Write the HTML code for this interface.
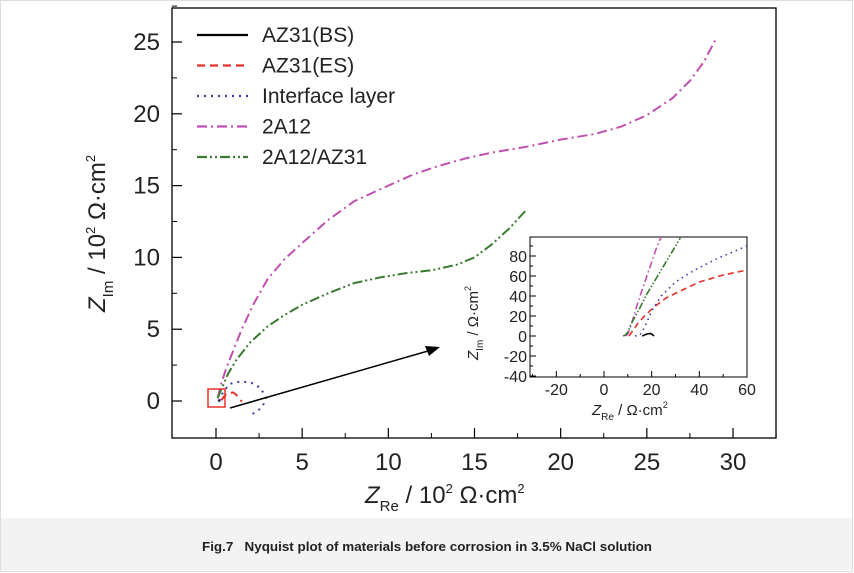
<!DOCTYPE html>
<html><head><meta charset="utf-8"><style>
body{margin:0;background:#fff;}
svg{display:block;font-family:"Liberation Sans",sans-serif;}
</style></head><body>
<svg width="854" height="573" viewBox="0 0 854 573">
<rect x="0.5" y="0.5" width="852" height="571" fill="#fff" stroke="#ddd"/>
<rect x="1" y="518" width="851" height="52" fill="#f3f3f3"/>
<text x="427" y="551" text-anchor="middle" font-size="13" font-weight="bold" fill="#222" textLength="450" lengthAdjust="spacingAndGlyphs">Fig.7&#160;&#160; Nyquist plot of materials before corrosion in 3.5% NaCl solution</text>
<g id="main"></g>
<g id="inset"></g>
</svg>
<script>
const xTicks=[0,5,10,15,20,25,30];
const yTicks=[0,5,10,15,20,25];
const seriesNames=["AZ31(BS)","AZ31(ES)","Interface layer","2A12","2A12/AZ31"];
const seriesColors=["#000","#e8302a","#3a3aa0","#c050b0","#3a7a30"];
const seriesDash=["","8,5","2,5","10,4,2,4","10,3,2,3,2,3"];
// main plot data (units 10^2 ohm cm^2)
const bsX=[0.12,0.18,0.2,0.17];const bsY=[0,0.05,0,-0.03];
const esX=[0.3,0.6,1.0,1.3,1.5];const esY=[0.05,0.5,0.6,0.3,-0.05];
const ilX=[0.2,0.4,0.8,1.4,2.0,2.6,2.9,2.7,2.3,2.1];const ilY=[0,0.6,1.2,1.35,1.3,0.9,0.2,-0.4,-0.8,-0.9];
const a12X=[0.1,0.3,0.6,1.0,1.5,2.2,3.0,4.0,5.0,6.5,8.0,10,11.5,13,14.5,16,18,20,22,23.5,25,26.5,27.5,28.3,29];
const a12Y=[0.2,1.2,2.3,3.5,5.0,6.8,8.5,9.9,11.0,12.6,13.9,15.0,15.8,16.4,16.9,17.3,17.7,18.2,18.6,19.1,19.9,21.1,22.3,23.6,25.2];
const gX=[0.1,0.3,0.7,1.2,2.0,3.0,4.0,5.0,6.5,8.0,9.5,11,12.5,14,15,16,17,18];
const gY=[0.2,0.8,1.9,2.9,4.1,5.2,6.0,6.7,7.5,8.2,8.6,8.9,9.1,9.5,10.0,10.9,12.0,13.3];
// inset data (ohm cm^2)
const iXTicks=[-20,0,20,40,60];
const iYTicks=[-40,-20,0,20,40,60,80];
const iBsX=[16,18,19.5,20.5,21];const iBsY=[0,2,2.5,1,0];
const iEsX=[10.5,12,14,17,21,26,32,40,50,60];const iEsY=[0,5,12,20,29,38,45,54,61,66];
const iIlX=[13,15,16,18,20,24,30,38,48,60];const iIlY=[0,1,4,14,25,40,54,66,78,90];
const iAX=[9,10,11,12.5,14,16,18,20,22,24];const iAY=[0,2,8,20,32,46,60,74,88,99];
const iGX=[8,9,10,11,12.5,15,18,22,27,32];const iGY=[0,1,4,10,17,28,42,58,78,98];

const NS="http://www.w3.org/2000/svg";
function mk(parent,tag,attrs){const e=document.createElementNS(NS,tag);for(const k in attrs)e.setAttribute(k,attrs[k]);parent.appendChild(e);return e;}
const main=document.getElementById('main');
const X=v=>216+v*(733-216)/30, Y=v=>401-v*(401-42)/25;
const pts=(xs,ys,fx,fy)=>xs.map((x,i)=>fx(x).toFixed(1)+","+fy(ys[i]).toFixed(1)).join(" ");
let box=mk(main,'rect',{x:172,y:8,width:604,height:430,fill:'none',stroke:'#000','stroke-width':1.3});


xTicks.forEach(t=>{let l=mk(main,'line',{x1:X(t),x2:X(t),y1:438,y2:428,stroke:'#000','stroke-width':1.2});

let m=mk(main,'line',{x1:X(t+2.5),x2:X(t+2.5),y1:438,y2:433,stroke:'#000'});
let tx=mk(main,'text',{x:X(t),y:470,'text-anchor':'middle','font-size':24,fill:'#222'});tx.textContent=t;
});
yTicks.forEach(t=>{let l=mk(main,'line',{x1:172,x2:182,y1:Y(t),y2:Y(t),stroke:'#000','stroke-width':1.2});

let m=mk(main,'line',{x1:172,x2:177,y1:Y(t+2.5),y2:Y(t+2.5),stroke:'#000'});
let tx=mk(main,'text',{x:160,y:Y(t)+8,'text-anchor':'end','font-size':24,fill:'#222'});tx.textContent=t;
});
let xt=mk(main,'text',{x:365,y:503,'font-size':24,fill:'#222'});
xt.innerHTML='<tspan font-style="italic">Z</tspan><tspan font-size="15" dy="8">Re</tspan><tspan dy="-8"> / 10</tspan><tspan font-size="13" dy="-10">2</tspan><tspan dy="10"> Ω·cm</tspan><tspan font-size="13" dy="-10">2</tspan>';

let yt=mk(main,'text',{transform:'translate(105,312) rotate(-90)','font-size':24,fill:'#222'});
yt.innerHTML='<tspan font-style="italic">Z</tspan><tspan font-size="15" dy="8">Im</tspan><tspan dy="-8"> / 10</tspan><tspan font-size="13" dy="-10">2</tspan><tspan dy="10"> Ω·cm</tspan><tspan font-size="13" dy="-10">2</tspan>';

const mainSeries=[[bsX,bsY],[esX,esY],[ilX,ilY],[a12X,a12Y],[gX,gY]];
mainSeries.forEach((s,i)=>{let p=mk(main,'polyline',{points:pts(s[0],s[1],X,Y),fill:'none',stroke:seriesColors[i],'stroke-width':2,'stroke-dasharray':seriesDash[i]});
});
let zr=mk(main,'rect',{x:208,y:389,width:17,height:18,fill:'none',stroke:'#e8302a','stroke-width':1.5});

let ar=mk(main,'line',{x1:230,y1:408,x2:428,y2:351,stroke:'#000','stroke-width':1.5});

let ah=mk(main,'polygon',{points:'440,347 425,346 429,356',fill:'#000'});

seriesNames.forEach((n,i)=>{const y=35+i*30.5;
let l=mk(main,'line',{x1:197,x2:248,y1:y,y2:y,stroke:seriesColors[i],'stroke-width':2.2,'stroke-dasharray':seriesDash[i]});

let t=mk(main,'text',{x:262,y:y+7,'font-size':21,fill:'#222'});t.textContent=n;
});
// inset
const ins=document.getElementById('inset');
const IX=v=>604+v*(747-604)/60, IY=v=>336-v*(336-256)/80;
let ib=mk(ins,'rect',{x:530,y:237,width:217,height:140,fill:'#fff',stroke:'#000','stroke-width':1});

iXTicks.forEach(t=>{let l=mk(ins,'line',{x1:IX(t),x2:IX(t),y1:377,y2:371,stroke:'#000'});
let m=mk(ins,'line',{x1:IX(t-10),x2:IX(t-10),y1:377,y2:374,stroke:'#000'});
let tx=mk(ins,'text',{x:IX(t),y:395,'text-anchor':'middle','font-size':16,fill:'#222'});tx.textContent=t;});
iYTicks.forEach(t=>{let l=mk(ins,'line',{x1:530,x2:536,y1:IY(t),y2:IY(t),stroke:'#000'});
let m=mk(ins,'line',{x1:530,x2:533,y1:IY(t+10),y2:IY(t+10),stroke:'#000'});
let tx=mk(ins,'text',{x:527,y:IY(t)+6,'text-anchor':'end','font-size':16,fill:'#222'});tx.textContent=t;});
let ixt=mk(ins,'text',{x:592,y:415,'font-size':15,fill:'#222'});
ixt.innerHTML='<tspan font-style="italic">Z</tspan><tspan font-size="10" dy="5">Re</tspan><tspan dy="-5"> / Ω·cm</tspan><tspan font-size="9" dy="-7">2</tspan>';

let iyt=mk(ins,'text',{transform:'translate(478,360) rotate(-90)','font-size':15,fill:'#222'});
iyt.innerHTML='<tspan font-style="italic">Z</tspan><tspan font-size="10" dy="5">Im</tspan><tspan dy="-5"> / Ω·cm</tspan><tspan font-size="9" dy="-7">2</tspan>';

const insSeries=[[iBsX,iBsY],[iEsX,iEsY],[iIlX,iIlY],[iAX,iAY],[iGX,iGY]];
const insDash=["","6,4","1.5,4","7,3,1.5,3","7,2,1.5,2,1.5,2"];
insSeries.forEach((s,i)=>{let p=mk(ins,'polyline',{points:pts(s[0],s[1],IX,IY),fill:'none',stroke:seriesColors[i],'stroke-width':1.6,'stroke-dasharray':insDash[i]});
});
</script>
</body></html>
